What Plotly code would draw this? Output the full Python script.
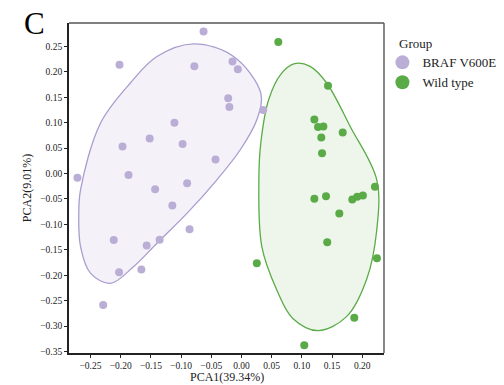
import plotly.graph_objects as go

# ---- data ----
braf_x = [-0.0628, -0.202, -0.078, -0.0149, -0.006, -0.022, -0.020, -0.111, -0.152, -0.197,
          -0.0975, -0.043, -0.2716, -0.187, -0.090, -0.143, 0.036, -0.1145, -0.086, -0.2115,
          -0.157, -0.1355, -0.2027, -0.1658, -0.229]
braf_y = [0.2795, 0.214, 0.211, 0.2205, 0.205, 0.148, 0.131, 0.100, 0.069, 0.053,
          0.058, 0.0276, -0.0085, -0.003, -0.019, -0.031, 0.125, -0.063, -0.1095, -0.131,
          -0.1417, -0.1305, -0.194, -0.189, -0.2585]

wt_x = [0.061, 0.1433, 0.1207, 0.1268, 0.1356, 0.1322, 0.1676, 0.1334, 0.221, 0.1207,
        0.140, 0.1835, 0.1917, 0.201, 0.162, 0.142, 0.0254, 0.2243, 0.1868, 0.104]
wt_y = [0.2587, 0.1726, 0.1063, 0.0913, 0.0925, 0.0709, 0.0807, 0.040, -0.026, -0.0498,
        -0.0445, -0.051, -0.0459, -0.0433, -0.0787, -0.135, -0.1764, -0.1666, -0.2835, -0.338]

# group outlines (boundary control points)
braf_hull_x = [-0.184, -0.140, -0.079, -0.013, 0.032, 0.0254, -0.002, -0.0407, -0.090, -0.140,
               -0.1785, -0.217, -0.25, -0.2665, -0.2694, -0.2665, -0.2335, -0.184]
braf_hull_y = [0.178, 0.230, 0.255, 0.230, 0.158, 0.1057, 0.0467, -0.0124, -0.078, -0.137,
               -0.183, -0.216, -0.196, -0.1437, -0.078, -0.032, 0.099, 0.178]

wt_hull_x = [0.0288, 0.032, 0.045, 0.065, 0.088, 0.1136, 0.141, 0.180, 0.224, 0.224, 0.207, 0.174,
             0.127, 0.085, 0.0585, 0.0337, 0.0288]
wt_hull_y = [-0.0124, 0.06, 0.145, 0.195, 0.216, 0.2106, 0.178, 0.0925, -0.0124, -0.111, -0.209, -0.2815,
             -0.309, -0.285, -0.229, -0.1437, -0.0124]

groups = ["BRAF V600E", "Wild type"]
x_ticks = [-0.25, -0.20, -0.15, -0.10, -0.05, 0.00, 0.05, 0.10, 0.15, 0.20]
y_ticks = [-0.35, -0.30, -0.25, -0.20, -0.15, -0.10, -0.05, 0.00, 0.05, 0.10, 0.15, 0.20, 0.25]

PURPLE = "#bbaed6"
PURPLE_LINE = "#a99dcf"
GREEN = "#5aab47"
FONT = "Liberation Serif, Times New Roman, serif"

fig = go.Figure()

fig.add_trace(go.Scatter(x=braf_hull_x, y=braf_hull_y, mode="lines", line=dict(shape="spline", color=PURPLE_LINE, width=1.3, smoothing=1.0),
                         fill="toself", fillcolor="rgba(187,174,214,0.16)", showlegend=False, hoverinfo="skip"))
fig.add_trace(go.Scatter(x=wt_hull_x, y=wt_hull_y, mode="lines", line=dict(shape="spline", color=GREEN, width=1.3, smoothing=1.0),
                         fill="toself", fillcolor="rgba(90,171,71,0.10)", showlegend=False, hoverinfo="skip"))

fig.add_trace(go.Scatter(x=braf_x, y=braf_y, mode="markers", marker=dict(color=PURPLE, size=8), showlegend=False))
fig.add_trace(go.Scatter(x=wt_x, y=wt_y, mode="markers", marker=dict(color=GREEN, size=8), showlegend=False))

# legend entries
fig.add_trace(go.Scatter(x=[None], y=[None], mode="markers", marker=dict(color=PURPLE, size=14), name=groups[0]))
fig.add_trace(go.Scatter(x=[None], y=[None], mode="markers", marker=dict(color=GREEN, size=14), name=groups[1]))

axis_common = dict(showgrid=False, zeroline=False, showline=True, linecolor="#222", linewidth=1.8,
                   ticks="outside", ticklen=3, tickwidth=1.2, tickcolor="#222",
                   tickfont=dict(family=FONT, size=9.5, color="#222"), tickformat=".2f")

fig.update_layout(
    width=504, height=385,
    margin=dict(l=69, r=120, t=23, b=32, autoexpand=False),
    plot_bgcolor="white", paper_bgcolor="white",
    font=dict(family=FONT, color="#222"),
    xaxis=dict(range=[-0.2856, 0.236], tickvals=x_ticks, **axis_common),
    yaxis=dict(range=[-0.353, 0.296], tickvals=y_ticks,
               title=dict(text="PCA2(9.01%)", font=dict(family=FONT, size=12), standoff=6), **axis_common),
    legend=dict(x=0.995, y=0.926, xanchor="left", yanchor="top", bgcolor="rgba(0,0,0,0)",
                font=dict(family=FONT, size=13, color="#222"), itemwidth=30, tracegroupgap=0),
    shapes=[
        dict(type="line", xref="paper", yref="paper", x0=0, x1=1, y0=1, y1=1, line=dict(color="#555", width=1.4)),
        dict(type="line", xref="paper", yref="paper", x0=1, x1=1, y0=0, y1=1, line=dict(color="#555", width=1.4)),
    ],
    annotations=[
        dict(text="C", xref="paper", yref="paper", x=-0.108, y=1.0, xanchor="center", yanchor="middle",
             showarrow=False, font=dict(family=FONT, size=31, color="black")),
        dict(text="Group", xref="paper", yref="paper", x=1.041, y=0.939, xanchor="left", yanchor="middle",
             showarrow=False, font=dict(family=FONT, size=13, color="#222")),
        dict(text="PCA1(39.34%)", xref="paper", yref="paper", x=0.5, y=-0.097, xanchor="center", yanchor="bottom",
             borderpad=0, showarrow=False, font=dict(family=FONT, size=12, color="#222")),
    ],
)

fig.write_html("out.html")
